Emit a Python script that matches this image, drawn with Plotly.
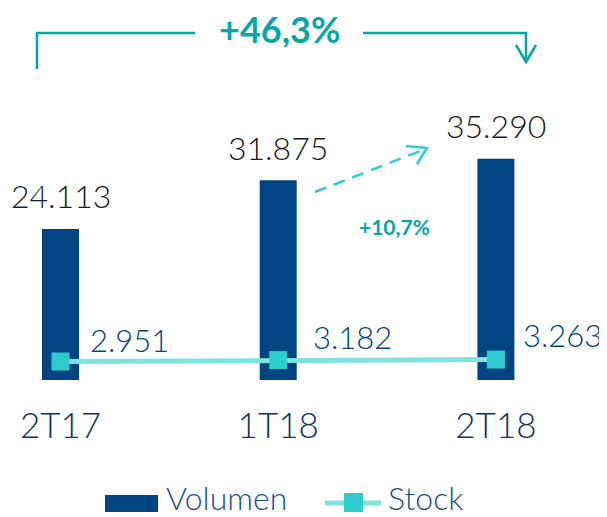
import plotly.graph_objects as go

CATEGORIES = ["2T17", "1T18", "2T18"]
VOLUMEN = [24113, 31875, 35290]
STOCK = [2951, 3182, 3263]
VOL_LABELS = ["24.113", "31.875", "35.290"]
STOCK_LABELS = ["2.951", "3.182", "3.263"]
TOTAL_GROWTH = "+46,3%"
QUARTER_GROWTH = "+10,7%"
SERIES_NAMES = ["Volumen", "Stock"]

NAVY = "#004481"
TEAL = "#0AA5A5"
AQUA = "#2DCCCD"
LIGHT_AQUA = "#7FE3E0"
FONT = "Lato"

OFF = 8  # page body margin in the browser
W_PX, H_PX = 607 - OFF, 517 - OFF
L, T, W, H = 20 - OFF, 98 - OFF, 567, 282


def px(x):
    return (x - OFF - L) / W


def py(y):
    return (T + H - (y - OFF)) / H


xs = list(range(len(CATEGORIES)))

fig = go.Figure()
fig.add_trace(go.Bar(x=xs, y=VOLUMEN, width=0.17, marker=dict(color=NAVY, line=dict(width=0)),
                     name=SERIES_NAMES[0], hoverinfo="skip"))
fig.add_trace(go.Scatter(x=xs, y=STOCK, mode="lines+markers", name=SERIES_NAMES[1],
                         line=dict(color=LIGHT_AQUA, width=5),
                         marker=dict(symbol="square", size=18, color=AQUA, line=dict(width=0)),
                         hoverinfo="skip", cliponaxis=False))

annotations = []
for i, (v, lab) in enumerate(zip(VOLUMEN, VOL_LABELS)):
    annotations.append(dict(x=i, y=v, xref="x", yref="y", text=lab, showarrow=False,
                            xanchor="center", yanchor="middle", yshift=33,
                            font=dict(family=FONT, size=32, color="#1a1a1a", weight=300)))
STOCK_DX = [27, 33, 25]
STOCK_DY = [22, 23, 25]
for i, (v, lab) in enumerate(zip(STOCK, STOCK_LABELS)):
    annotations.append(dict(x=i, y=v, xref="x", yref="y", text=lab, showarrow=False,
                            xanchor="left", yanchor="middle", xshift=STOCK_DX[i], yshift=STOCK_DY[i],
                            font=dict(family=FONT, size=31, color=NAVY, weight=300)))
annotations.append(dict(x=px(279), y=py(29), xref="paper", yref="paper", text="<b>%s</b>" % TOTAL_GROWTH,
                        showarrow=False, xanchor="center", yanchor="middle", height=36, valign="middle",
                        font=dict(family=FONT, size=36, color=TEAL)))
annotations.append(dict(x=px(394), y=py(226), xref="paper", yref="paper", text="<b>%s</b>" % QUARTER_GROWTH,
                        showarrow=False, xanchor="center", yanchor="middle",
                        font=dict(family=FONT, size=21, color=TEAL)))
# legend texts
for name, xl in zip(SERIES_NAMES, [164, 386]):
    annotations.append(dict(x=px(xl), y=py(497.5), xref="paper", yref="paper", text=name,
                            showarrow=False, xanchor="left", yanchor="middle",
                            font=dict(family=FONT, size=32, color="#1F4E8C", weight=300)))


def path(points):
    return "M " + " L ".join("%f,%f" % (px(x), py(y)) for x, y in points)


shapes = [
    dict(type="path", xref="paper", yref="paper", path=path([(37, 69), (37, 33), (195, 33)]),
         line=dict(color=TEAL, width=2.5)),
    dict(type="path", xref="paper", yref="paper", path=path([(363, 33), (526, 33), (526, 62)]),
         line=dict(color=TEAL, width=2.5)),
    dict(type="path", xref="paper", yref="paper", path=path([(516, 45), (526, 62), (536, 45)]),
         line=dict(color=TEAL, width=2.5)),
    dict(type="line", xref="paper", yref="paper", x0=px(315), y0=py(192), x1=px(424), y1=py(149.5),
         line=dict(color=AQUA, width=2.5, dash="12px,8px")),
    dict(type="path", xref="paper", yref="paper", path=path([(406, 146), (427, 148), (417, 164)]),
         line=dict(color=AQUA, width=2.5)),
    # legend marks
    dict(type="rect", xref="paper", yref="paper", x0=px(105), x1=px(158), y0=py(512), y1=py(495),
         fillcolor=NAVY, line=dict(width=0)),
    dict(type="line", xref="paper", yref="paper", x0=px(325), x1=px(381), y0=py(503), y1=py(503),
         line=dict(color=LIGHT_AQUA, width=5)),
    dict(type="rect", xref="paper", yref="paper", x0=px(344), x1=px(363), y0=py(512), y1=py(493),
         fillcolor=AQUA, line=dict(width=0)),
]

x0 = -(60.5 - 20) / 217.7
fig.update_layout(
    width=W_PX, height=H_PX,
    margin=dict(l=L, r=W_PX - L - W, t=T, b=H_PX - T - H, pad=0),
    paper_bgcolor="white", plot_bgcolor="white",
    showlegend=False,
    annotations=annotations, shapes=shapes,
    xaxis=dict(range=[x0, x0 + W / 217.7], tickmode="array", tickvals=xs, ticktext=CATEGORIES,
               showgrid=False, zeroline=False, showline=False, ticks="",
               tickfont=dict(family=FONT, size=35, color="#14325A", weight=300),
               ticklabelstandoff=22, fixedrange=True),
    yaxis=dict(range=[0, 45000], visible=False, showgrid=False, zeroline=False, fixedrange=True),
)

fig.write_html("out.html", config={"displayModeBar": False})
